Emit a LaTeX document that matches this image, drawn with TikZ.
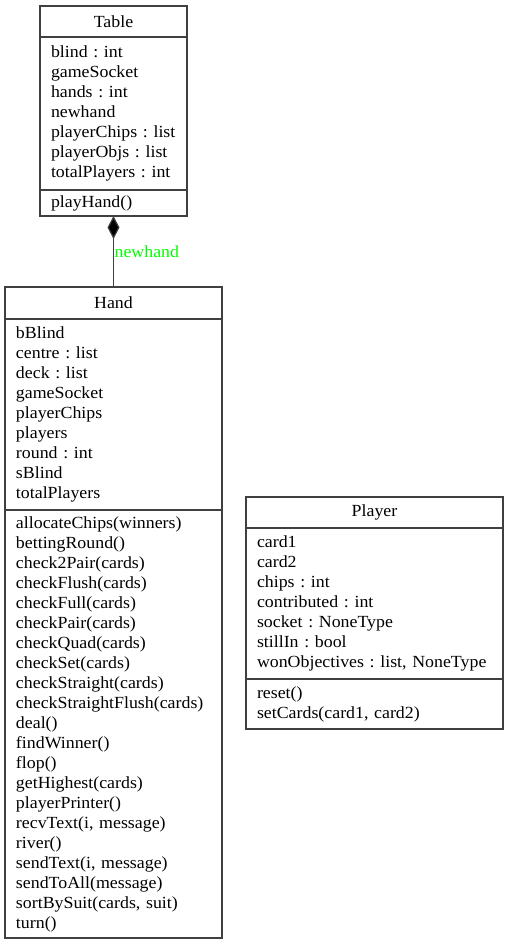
\documentclass[tikz,border=0pt]{standalone}
\usepackage{fontspec}
\setmainfont{Liberation Serif}[FakeStretch=1.05]
\usetikzlibrary{positioning, arrows.meta}

\begin{document}
\frenchspacing
\begin{tikzpicture}[x=1pt, y=-1pt,
    font=\fontsize{17}{20}\selectfont,
    umlline/.style={draw=black!75, line width=1.2pt},
    classname/.style={umlline, outer sep=0pt, inner sep=0pt, minimum width=#1},
    classpart/.style 2 args={umlline, outer sep=0pt, align=left, inner xsep=11pt, inner ysep=0pt, text width=#1, minimum height=#2}]

    % Bounding box
    \useasboundingbox (0,0) rectangle (509,945);

    % Class Table
    \node [classname=147pt, minimum height=31pt] (tablename) at (113.5,21.5) {Table};
    \node [classpart={125pt}{153pt}, below=0pt of tablename] (tableattrs)
        {blind~:~int\\gameSocket\\hands~:~int\\newhand\\playerChips~:~list\\playerObjs~:~list\\totalPlayers~:~int};
    \node [classpart={125pt}{26pt}, below=0pt of tableattrs] (tableops) {playHand()};

    % Class Hand
    \node [classname=217pt, minimum height=32pt] (handname) at (113.5,303) {Hand};
    \node [classpart={195pt}{191pt}, below=0pt of handname] (handattrs)
        {bBlind\\centre~:~list\\deck~:~list\\gameSocket\\playerChips\\players\\round~:~int\\sBlind\\totalPlayers};
    \node [classpart={195pt}{428pt}, below=0pt of handattrs] (handops)
        {allocateChips(winners)\\bettingRound()\\check2Pair(cards)\\checkFlush(cards)\\checkFull(cards)\\checkPair(cards)\\checkQuad(cards)\\checkSet(cards)\\checkStraight(cards)\\checkStraightFlush(cards)\\deal()\\findWinner()\\flop()\\getHighest(cards)\\playerPrinter()\\recvText(i, message)\\river()\\sendText(i, message)\\sendToAll(message)\\sortBySuit(cards, suit)\\turn()};

    % Class Player
    \node [classname=257pt, minimum height=31pt] (playername) at (374.5,512.5) {Player};
    \node [classpart={235pt}{151pt}, below=0pt of playername] (playerattrs)
        {card1\\card2\\chips~:~int\\contributed~:~int\\socket~:~NoneType\\stillIn~:~bool\\wonObjectives~:~list,~NoneType};
    \node [classpart={235pt}{50pt}, below=0pt of playerattrs] (playerops) {reset()\\setCards(card1, card2)};

    % Composition
    \draw [umlline, {Diamond[width=12pt, length=23pt, fill=black]}-] (tableops) -- (handname)
        node [pos=0.5, right, inner sep=0.5pt, text=green] {newhand};

\end{tikzpicture}
\end{document}
